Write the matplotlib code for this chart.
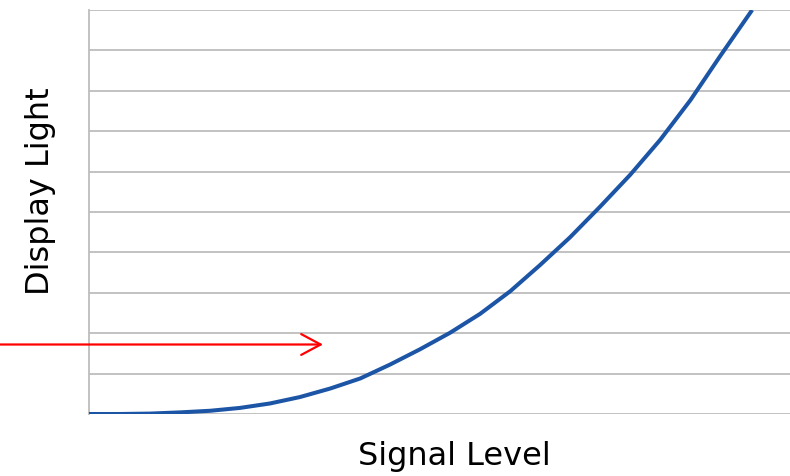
import numpy as np
import matplotlib.pyplot as plt

# curve: signal (0..1 across the plot) vs light (grid units 0..10)
signal = [0.000, 0.044, 0.087, 0.130, 0.173, 0.215, 0.258, 0.301, 0.344, 0.387,
          0.429, 0.472, 0.515, 0.558, 0.601, 0.643, 0.686, 0.729, 0.772, 0.815,
          0.858, 0.900, 0.946]
light = [0.00, 0.00, 0.01, 0.04, 0.08, 0.15, 0.26, 0.42, 0.63, 0.88,
         1.22, 1.60, 2.01, 2.48, 3.04, 3.68, 4.37, 5.13, 5.92, 6.79,
         7.77, 8.85, 10.00]

gridlines = list(range(0, 11))

fig = plt.figure(figsize=(7.9, 4.77), dpi=100)
ax = fig.add_axes([89 / 790, 62 / 477, 701 / 790, 404 / 477])

for g in gridlines:
    ax.axhline(g, color="#bdbdbd", lw=1.3, zorder=1)

ax.plot(signal, light, color="#1c55a6", lw=2.9, solid_capstyle="butt",
        solid_joinstyle="round", zorder=3)

ax.set_xlim(0, 1)
ax.set_ylim(0, 10)
ax.set_xticks([])
ax.set_yticks([])
for s in ["top", "right", "bottom"]:
    ax.spines[s].set_visible(False)
ax.spines["left"].set_color("#bdbdbd")
ax.spines["left"].set_linewidth(1.3)

# red arrow coming in from the left edge
fig.add_artist(plt.Annotation(
    "", xy=(323 / 790, 1 - 345.5 / 477), xytext=(0, 1 - 345.5 / 477),
    xycoords="figure fraction", textcoords="figure fraction",
    arrowprops=dict(arrowstyle="->,head_length=1.4,head_width=0.75",
                    color="#ff0000", lw=1.6, shrinkA=0, shrinkB=0)))

fig.text(454 / 790, 1 - 465.5 / 477, "Signal Level", ha="center", va="baseline",
         fontsize=23, family="DejaVu Sans")
fig.text(41 / 790, 1 - 191 / 477, "Display Light", ha="center", va="center",
         rotation=90, fontsize=23, family="DejaVu Sans")

fig.savefig("out.png", dpi=100)
